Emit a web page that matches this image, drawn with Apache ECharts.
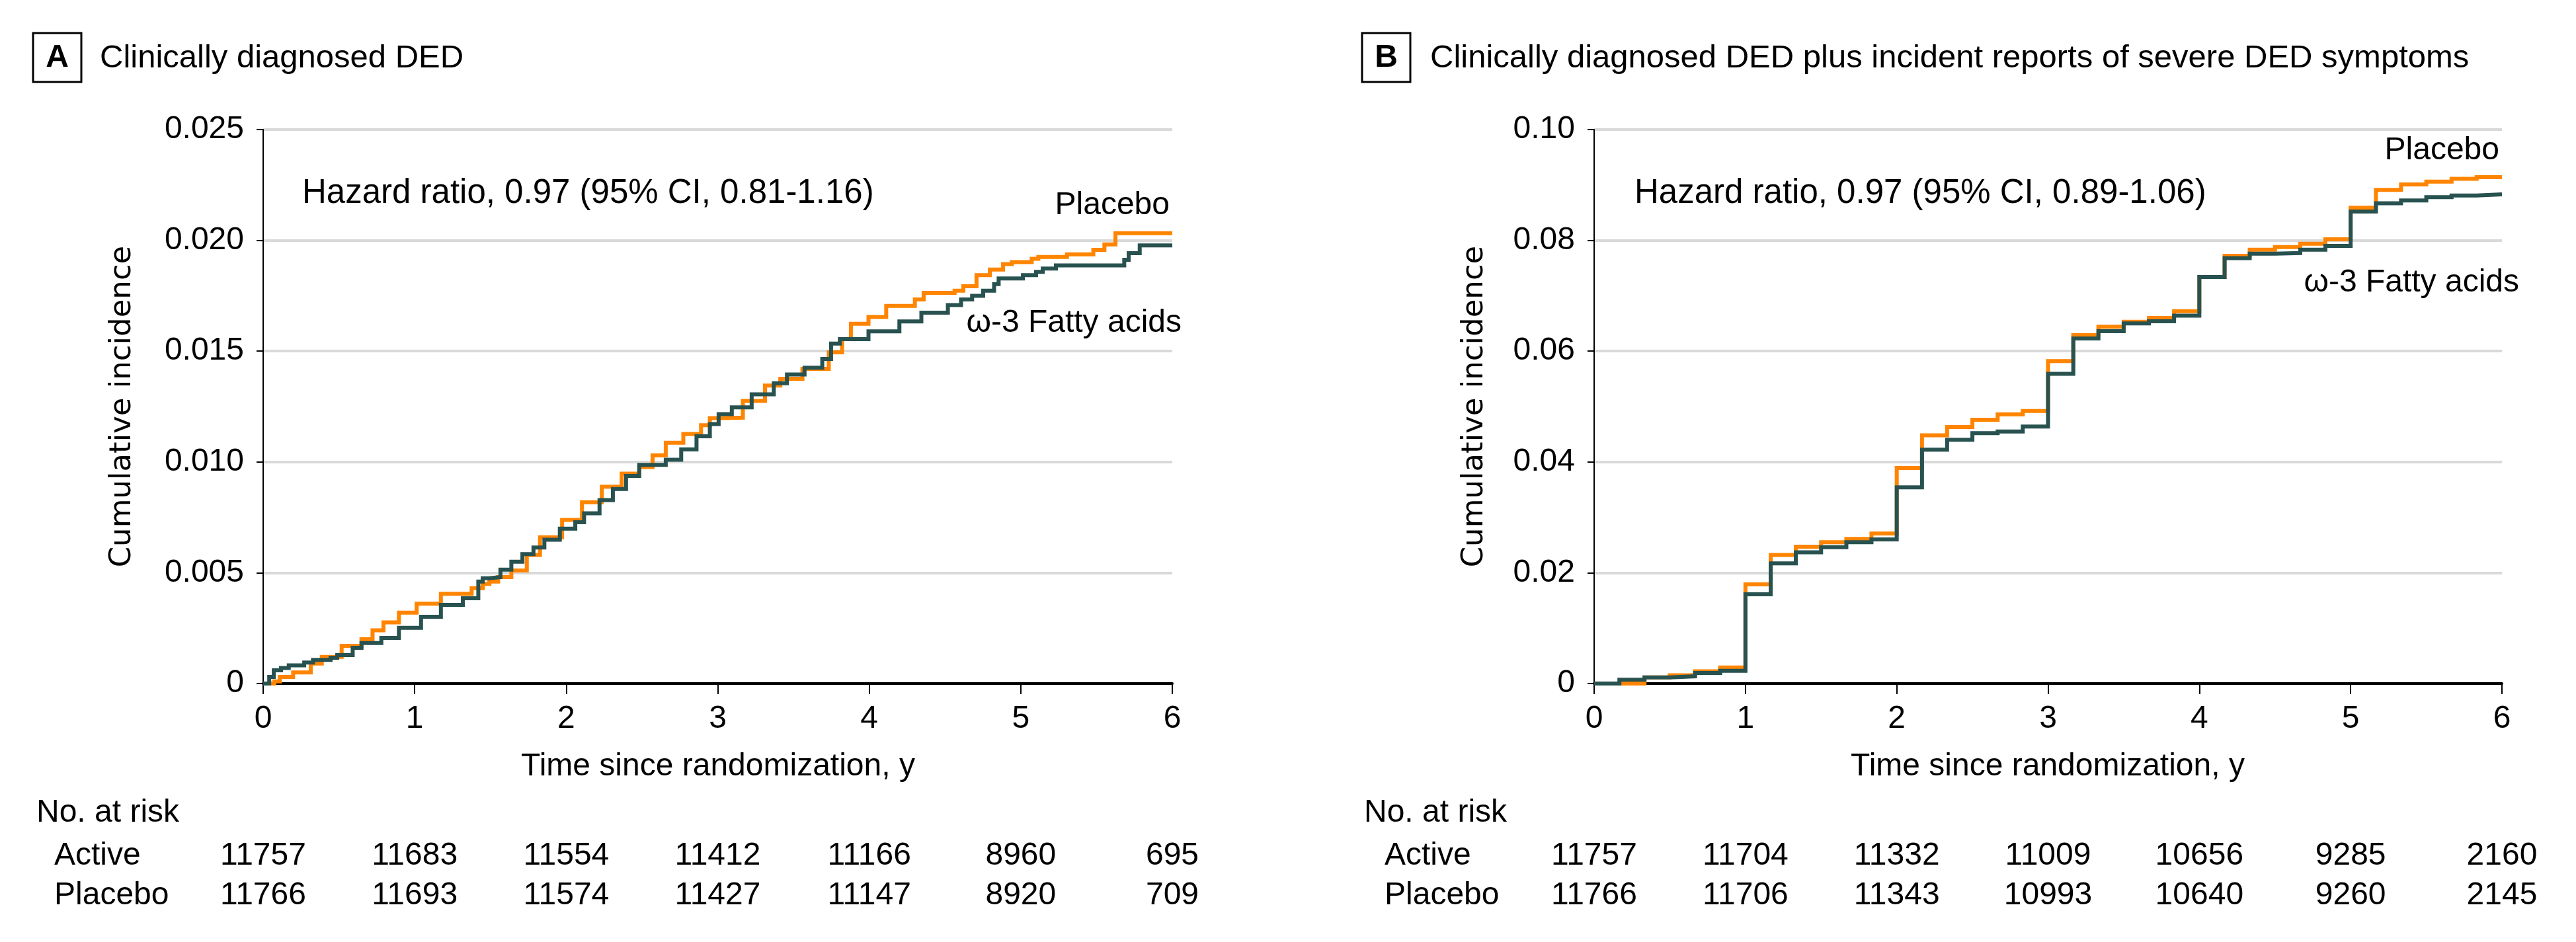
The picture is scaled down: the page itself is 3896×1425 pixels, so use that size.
<!DOCTYPE html>
<html>
<head>
<meta charset="utf-8">
<script src="https://cdn.jsdelivr.net/npm/echarts@6/dist/echarts.min.js"></script>
<style>html,body{margin:0;padding:0;background:#fff}#c{width:3896px;height:1425px}</style>
</head>
<body>
<div id="c"></div>
<script>
// ---------------- DATA ----------------
const xTickLabels = ['0', '1', '2', '3', '4', '5', '6'];
const yTickLabelsA = ['0', '0.005', '0.010', '0.015', '0.020', '0.025'];
const yTickLabelsB = ['0', '0.02', '0.04', '0.06', '0.08', '0.10'];

// Panel A: [time (y), cumulative incidence] at each step start
const activeA = [[0,0],[0.04,0.0003],[0.07,0.0006],[0.118,0.0007],[0.169,0.00082],[0.271,0.00095],[0.329,0.00107],[0.445,0.00116],[0.489,0.00128],[0.591,0.00161],[0.649,0.00183],[0.78,0.00206],[0.896,0.00251],[1.042,0.00301],[1.173,0.00355],[1.318,0.00385],[1.42,0.0046],[1.449,0.00475],[1.493,0.0048],[1.566,0.00514],[1.638,0.0055],[1.711,0.00584],[1.784,0.00614],[1.856,0.00649],[1.958,0.00699],[2.06,0.00728],[2.118,0.00768],[2.22,0.00828],[2.308,0.00878],[2.395,0.00937],[2.482,0.00987],[2.657,0.0101],[2.759,0.01057],[2.86,0.01116],[2.948,0.01171],[3.006,0.01216],[3.093,0.01246],[3.224,0.01305],[3.37,0.01355],[3.457,0.01395],[3.573,0.01425],[3.69,0.01465],[3.748,0.01534],[3.806,0.01554],[3.995,0.01589],[4.199,0.01634],[4.344,0.01674],[4.519,0.01708],[4.606,0.01733],[4.679,0.0175],[4.752,0.01773],[4.824,0.01803],[4.854,0.01828],[5.014,0.01843],[5.101,0.01858],[5.145,0.01873],[5.232,0.01887],[5.683,0.01912],[5.712,0.01942],[5.785,0.01977],[6,0.01977]];
const placeboA = [[0,0],[0.074,0.0001],[0.11,0.0003],[0.198,0.0005],[0.314,0.0009],[0.387,0.0012],[0.518,0.0017],[0.649,0.002],[0.722,0.0024],[0.794,0.00276],[0.896,0.0032],[1.013,0.0036],[1.173,0.00405],[1.376,0.0043],[1.449,0.0045],[1.493,0.0046],[1.551,0.0048],[1.638,0.0051],[1.74,0.0058],[1.827,0.0066],[1.973,0.00738],[2.104,0.00818],[2.235,0.00888],[2.366,0.00947],[2.482,0.00977],[2.57,0.0103],[2.657,0.01087],[2.773,0.01126],[2.89,0.01166],[2.948,0.01198],[3.02,0.012],[3.166,0.01275],[3.312,0.01345],[3.413,0.01375],[3.559,0.0142],[3.733,0.01495],[3.821,0.01554],[3.879,0.01624],[3.995,0.01654],[4.112,0.01704],[4.301,0.01733],[4.359,0.01763],[4.563,0.01773],[4.621,0.01793],[4.708,0.01843],[4.796,0.01868],[4.883,0.01893],[4.941,0.01902],[5.072,0.01917],[5.116,0.01925],[5.305,0.01937],[5.479,0.01957],[5.552,0.01982],[5.625,0.02032],[6,0.02032]];

// Panel B: steps every 2 months
const timesB = [0,0.167,0.333,0.5,0.667,0.833,1,1.167,1.333,1.5,1.667,1.833,2,2.167,2.333,2.5,2.667,2.833,3,3.167,3.333,3.5,3.667,3.833,4,4.167,4.333,4.5,4.667,4.833,5,5.167,5.333,5.5,5.667,5.833,6];
const activeB = [0,0.0007,0.0011,0.0013,0.0019,0.0023,0.0161,0.0217,0.0237,0.0246,0.0255,0.0260,0.0354,0.0422,0.0440,0.0452,0.0455,0.0464,0.0559,0.0623,0.0636,0.0650,0.0654,0.0664,0.0734,0.0768,0.0776,0.0777,0.0783,0.0790,0.0852,0.0867,0.0872,0.0878,0.0881,0.0883,0.0883];
const placeboB = [0,0,0.0011,0.0015,0.0022,0.0029,0.0179,0.0232,0.0247,0.0255,0.0261,0.0271,0.0389,0.0448,0.0463,0.0476,0.0486,0.0492,0.0582,0.0629,0.0644,0.0653,0.0660,0.0672,0.0734,0.0772,0.0783,0.0788,0.0794,0.0802,0.0859,0.0891,0.0901,0.0906,0.0911,0.0914,0.0914];

// Number at risk
const riskActiveA = ['11757','11683','11554','11412','11166','8960','695'];
const riskPlaceboA = ['11766','11693','11574','11427','11147','8920','709'];
const riskActiveB = ['11757','11704','11332','11009','10656','9285','2160'];
const riskPlaceboB = ['11766','11706','11343','10993','10640','9260','2145'];

// ---------------- CHART ----------------
const ORANGE = '#FF8400';
const TEAL = '#285250';
const FONT = '"Liberation Sans", Arial, sans-serif';
const FS = 48;

const chart = echarts.init(document.getElementById('c'), null, {renderer: 'canvas'});

const grids = [
  {left: 398, top: 196, width: 1375, height: 838, containLabel: false, outerBoundsMode: 'none'},
  {left: 2411, top: 196, width: 1373, height: 838, containLabel: false, outerBoundsMode: 'none'}
];

function mainX(g) {
  return {
    type: 'value', gridIndex: g, min: 0, max: 6, interval: 1, position: 'bottom',
    axisLine: {show: true, onZero: false, lineStyle: {color: '#000', width: 4}},
    axisTick: {show: true, length: 16, lineStyle: {color: '#000', width: 2}},
    axisLabel: {margin: 30, fontFamily: FONT, fontSize: FS, color: '#000',
      formatter: (v, i) => xTickLabels[Math.round(v)]},
    splitLine: {show: false}
  };
}
function riskX(g, arr, y) {
  return {
    type: 'value', gridIndex: g, min: 0, max: 6, interval: 1, position: 'bottom',
    axisLine: {show: false, onZero: false}, axisTick: {show: false}, splitLine: {show: false},
    axisLabel: {margin: y - 1034, verticalAlign: 'middle', fontFamily: FONT, fontSize: FS, color: '#000',
      showMinLabel: true, showMaxLabel: true,
      formatter: (v) => arr[Math.round(v)]}
  };
}
function mainY(g, max, interval, labels) {
  return {
    type: 'value', gridIndex: g, min: 0, max: max, interval: interval,
    axisLine: {show: true, lineStyle: {color: '#000', width: 2}},
    axisTick: {show: true, length: 10, lineStyle: {color: '#000', width: 2}},
    axisLabel: {margin: 29, fontFamily: FONT, fontSize: FS, color: '#000',
      formatter: (v) => labels[Math.round(v / interval)]},
    splitLine: {show: true, lineStyle: {color: '#d9d9d9', width: 4}}
  };
}

function stepData(times, vals) { return times.map((t, i) => [t, vals[i]]); }

function txt(x, y, s, opts) {
  opts = opts || {};
  return {type: 'text', x: x, y: y, rotation: opts.rot || 0, z: 100,
    style: {text: s, fill: '#000', font: (opts.bold ? 'bold ' : '') + (opts.size || FS) + 'px ' + (opts.font || FONT),
      textAlign: opts.align || 'left', textVerticalAlign: 'middle'}};
}

const graphics = [
  {type: 'rect', shape: {x: 50, y: 50, width: 73, height: 74}, style: {fill: 'none', stroke: '#000', lineWidth: 3}},
  txt(86.5, 88, 'A', {bold: true, align: 'center'}),
  txt(151, 88, 'Clinically diagnosed DED', {size: 49}),
  {type: 'rect', shape: {x: 2060, y: 50, width: 73, height: 74}, style: {fill: 'none', stroke: '#000', lineWidth: 3}},
  txt(2096.5, 88, 'B', {bold: true, align: 'center'}),
  txt(2163, 88, 'Clinically diagnosed DED plus incident reports of severe DED symptoms', {size: 49}),
  txt(185, 615, 'Cumulative incidence', {rot: Math.PI / 2, align: 'center', font: '"DejaVu Sans", sans-serif', size: 45}),
  txt(2230, 615, 'Cumulative incidence', {rot: Math.PI / 2, align: 'center', font: '"DejaVu Sans", sans-serif', size: 45}),
  txt(1086, 1160, 'Time since randomization, y', {align: 'center'}),
  txt(3097, 1160, 'Time since randomization, y', {align: 'center'}),
  txt(457, 293, 'Hazard ratio, 0.97 (95% CI, 0.81-1.16)', {size: 51}),
  txt(2472, 293, 'Hazard ratio, 0.97 (95% CI, 0.89-1.06)', {size: 51}),
  txt(1769, 311, 'Placebo', {align: 'right'}),
  txt(1787, 489, 'ω-3 Fatty acids', {align: 'right'}),
  txt(3780, 228, 'Placebo', {align: 'right'}),
  txt(3810, 428, 'ω-3 Fatty acids', {align: 'right'}),
  txt(55, 1230, 'No. at risk'),
  txt(82, 1295, 'Active'),
  txt(82, 1355, 'Placebo'),
  txt(2063, 1230, 'No. at risk'),
  txt(2094, 1295, 'Active'),
  txt(2094, 1355, 'Placebo')
];

const lineSeries = (name, x, y, data, color) => ({
  type: 'line', name: name, xAxisIndex: x, yAxisIndex: y, data: data, step: 'end',
  symbol: 'none', showSymbol: false, lineStyle: {color: color, width: 6, cap: 'butt', join: 'miter'},
  itemStyle: {color: color}, animation: false, silent: true
});

chart.setOption({
  animation: false,
  backgroundColor: '#fff',
  grid: grids,
  xAxis: [
    mainX(0), riskX(0, riskActiveA, 1295), riskX(0, riskPlaceboA, 1355),
    mainX(1), riskX(1, riskActiveB, 1295), riskX(1, riskPlaceboB, 1355)
  ],
  yAxis: [
    mainY(0, 0.025, 0.005, yTickLabelsA),
    mainY(1, 0.10, 0.02, yTickLabelsB)
  ],
  series: [
    lineSeries('Placebo A', 0, 0, placeboA, ORANGE),
    lineSeries('Active A', 0, 0, activeA, TEAL),
    lineSeries('Placebo B', 3, 1, stepData(timesB, placeboB), ORANGE),
    lineSeries('Active B', 3, 1, stepData(timesB, activeB), TEAL)
  ],
  graphic: graphics
});
</script>
</body>
</html>
